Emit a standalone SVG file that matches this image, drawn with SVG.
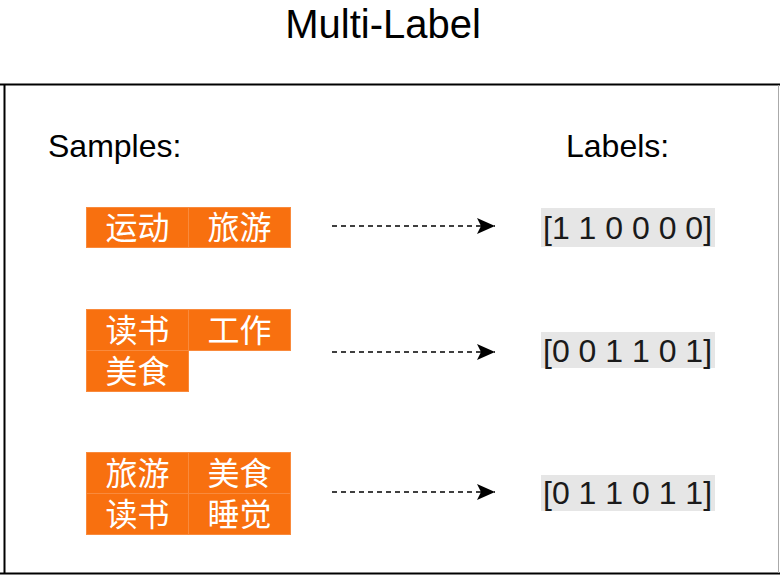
<svg xmlns="http://www.w3.org/2000/svg" width="780" height="588" viewBox="0 0 780 588">
<style>
.t{font-family:"Liberation Sans",Arial,sans-serif;fill:#000}
.cell{fill:#F8700F;stroke:#F98A3C;stroke-width:1}
.ct{font-family:"Noto Sans CJK SC",sans-serif;font-size:32px;fill:#fff;text-anchor:middle}
.lb{fill:#E6E6E6}
.lt{font-family:"Liberation Sans",Arial,sans-serif;font-size:32px;fill:#1a1a1a}
.arr{stroke:#000;stroke-width:1.6;stroke-dasharray:5 4;fill:none}
</style>
<defs>
<marker id="ah" markerWidth="20" markerHeight="16" viewBox="0 0 20 16" refX="18" refY="8" markerUnits="userSpaceOnUse" orient="auto">
<path d="M0,0 L18,8 L0,16 L4,8 Z" fill="#000"/>
</marker>
</defs>
<rect width="780" height="588" fill="#fff"/>
<text class="t" x="383" y="38" font-size="40" text-anchor="middle">Multi-Label</text>
<g id="frame">
<line x1="0" y1="84.5" x2="780" y2="84.5" stroke="#000" stroke-width="2"/>
<line x1="0" y1="573.5" x2="780" y2="573.5" stroke="#000" stroke-width="2"/>
<line x1="4.5" y1="84" x2="4.5" y2="574" stroke="#000" stroke-width="2"/>
<line x1="778.5" y1="85" x2="778.5" y2="573" stroke="#aaa" stroke-width="1"/>
</g>
<text class="t" x="48" y="157" font-size="32">Samples:</text>
<text class="t" x="566" y="157" font-size="32">Labels:</text>
<g id="sample1">
<rect class="cell" x="86.5" y="207.5" width="102" height="40"/>
<rect class="cell" x="188.5" y="207.5" width="102" height="40"/>
<text class="ct" x="137.5" y="238.5">运动</text>
<text class="ct" x="239.5" y="238.5">旅游</text>
</g>
<g id="sample2">
<rect class="cell" x="86.5" y="309.5" width="102" height="41"/>
<rect class="cell" x="188.5" y="309.5" width="102" height="41"/>
<rect class="cell" x="86.5" y="350.5" width="102" height="41"/>
<text class="ct" x="137.5" y="341.5">读书</text>
<text class="ct" x="239.5" y="341.5">工作</text>
<text class="ct" x="137.5" y="382.5">美食</text>
</g>
<g id="sample3">
<rect class="cell" x="86.5" y="452.5" width="102" height="41"/>
<rect class="cell" x="188.5" y="452.5" width="102" height="41"/>
<rect class="cell" x="86.5" y="493.5" width="102" height="41"/>
<rect class="cell" x="188.5" y="493.5" width="102" height="41"/>
<text class="ct" x="137.5" y="484.5">旅游</text>
<text class="ct" x="239.5" y="484.5">美食</text>
<text class="ct" x="137.5" y="525.5">读书</text>
<text class="ct" x="239.5" y="525.5">睡觉</text>
</g>
<g id="label1">
<rect class="lb" x="541" y="208" width="174" height="39"/>
<text class="lt" x="543" y="238.5">[1 1 0 0 0 0]</text>
</g>
<g id="label2">
<rect class="lb" x="541" y="332" width="174" height="36"/>
<text class="lt" x="543" y="362">[0 0 1 1 0 1]</text>
</g>
<g id="label3">
<rect class="lb" x="541" y="475" width="174" height="36"/>
<text class="lt" x="543" y="504">[0 1 1 0 1 1]</text>
</g>
<g id="connectors">
<line class="arr" x1="332" y1="226" x2="495" y2="226" marker-end="url(#ah)"/>
<line class="arr" x1="332" y1="352" x2="495" y2="352" marker-end="url(#ah)"/>
<line class="arr" x1="332" y1="492" x2="495" y2="492" marker-end="url(#ah)"/>
</g>
</svg>
